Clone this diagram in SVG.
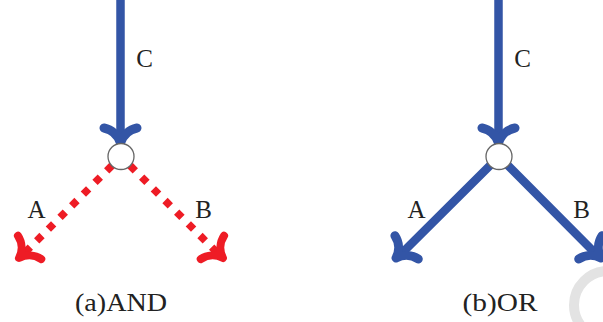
<svg xmlns="http://www.w3.org/2000/svg" xmlns:xlink="http://www.w3.org/1999/xlink" width="603" height="322" viewBox="0 0 603 322">
<style>
.lbl{font-family:"Liberation Serif","DejaVu Serif",serif;font-size:25px;fill:#222;text-anchor:middle}
.cap{font-family:"Liberation Serif","DejaVu Serif",serif;font-size:26px;fill:#222;text-anchor:middle}
.blue{stroke:#3355a6;fill:none;stroke-width:8.5;stroke-linecap:round;stroke-linejoin:round}
.red{stroke:#ee1c25;fill:none;stroke-width:7.5;stroke-linejoin:round}
.redhead{stroke:#ee1c25;fill:none;stroke-width:8;stroke-linecap:round;stroke-linejoin:round}
.bluehead{stroke:#3355a6;fill:none;stroke-width:9;stroke-linecap:round;stroke-linejoin:round}
.dash{stroke-dasharray:7.5 9;stroke-linecap:butt}
.node{fill:#fff;stroke:#666;stroke-width:1.3}
</style>
<defs>
<path id="head" d="M-16.5,-15 C-9,-13.5 -2.5,-8 0,0 C2.5,-8 9,-13.5 16.5,-15"/>
</defs>
<circle cx="608" cy="305" r="34" fill="none" stroke="#e3e3e3" stroke-width="10"/>
<g id="connectors">
<line class="blue" x1="120.5" y1="0" x2="120.5" y2="138"/>
<use class="bluehead" xlink:href="#head" transform="translate(120.5,143)"/>
<line class="red dash" x1="112" y1="165.5" x2="22" y2="255.5"/>
<use class="redhead" xlink:href="#head" transform="translate(19,258) rotate(45)"/>
<line class="red dash" x1="130" y1="165.5" x2="220" y2="255.5"/>
<use class="redhead" xlink:href="#head" transform="translate(223,258) rotate(-45)"/>
<line class="blue" x1="498.5" y1="0" x2="498.5" y2="138"/>
<use class="bluehead" xlink:href="#head" transform="translate(498.5,143)"/>
<line class="blue" x1="490" y1="165.5" x2="399" y2="256"/>
<use class="bluehead" xlink:href="#head" transform="translate(396,258) rotate(45)"/>
<line class="blue" x1="508" y1="165.5" x2="598" y2="256"/>
<use class="bluehead" xlink:href="#head" transform="translate(601,258) rotate(-45)"/>
</g>
<g id="and-node"><circle class="node" cx="121" cy="156.5" r="13"/></g>
<g id="or-node"><circle class="node" cx="499" cy="156.5" r="13"/></g>
<g id="labels">
<text class="lbl" x="144.5" y="67">C</text>
<text class="lbl" x="36.5" y="218">A</text>
<text class="lbl" x="203.5" y="218">B</text>
<text class="lbl" x="522.5" y="67">C</text>
<text class="lbl" x="416.5" y="218">A</text>
<text class="lbl" x="581.5" y="218">B</text>
<text class="cap" x="121" y="311" textLength="92" lengthAdjust="spacingAndGlyphs">(a)AND</text>
<text class="cap" x="500" y="311" textLength="75" lengthAdjust="spacingAndGlyphs">(b)OR</text>
</g>
</svg>
